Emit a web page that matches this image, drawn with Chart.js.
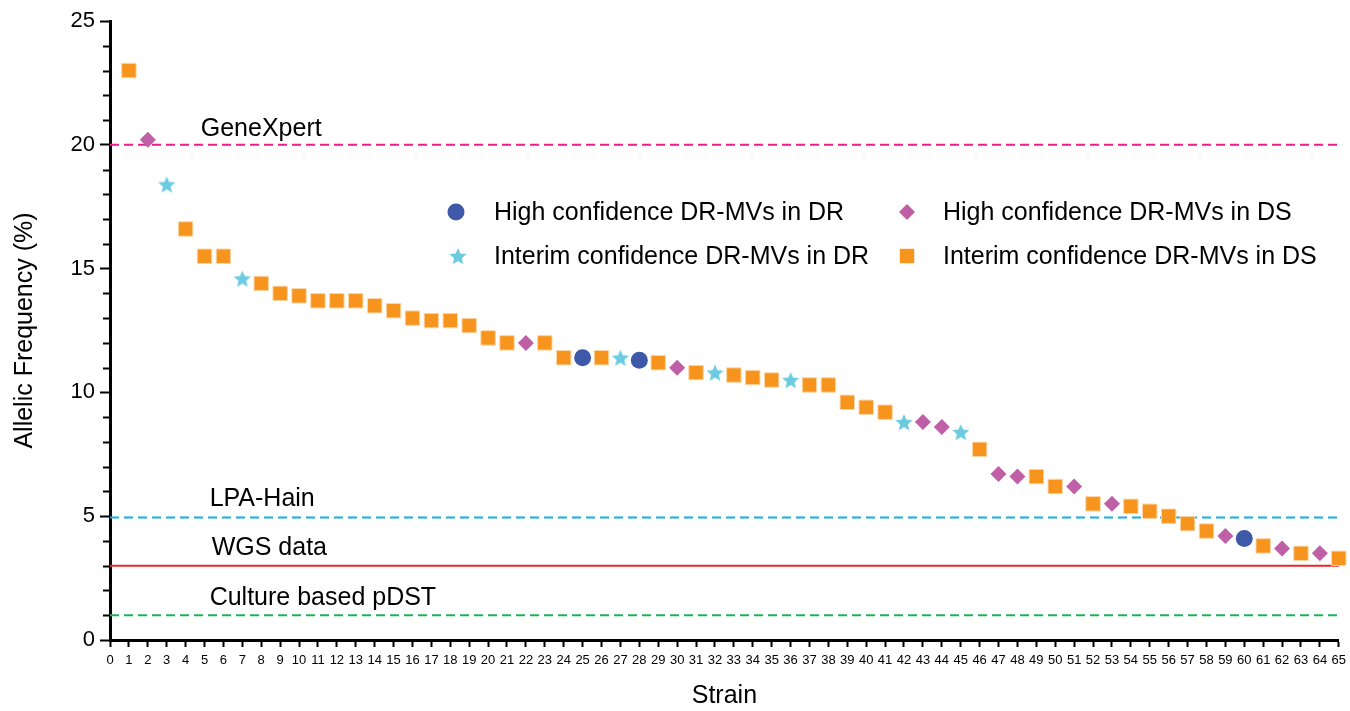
<!DOCTYPE html>
<html>
<head>
<meta charset="utf-8">
<script src="https://cdn.jsdelivr.net/npm/chart.js@4.4.0/dist/chart.umd.min.js"></script>
<style>
  html, body { margin: 0; padding: 0; background: #fff; }
  #wrap { width: 1350px; height: 711px; position: relative; }
</style>
</head>
<body>
<div id="wrap"><canvas id="chart"></canvas></div>
<script>
// strain number -> allelic frequency (%), per marker group
const HIGH_DR_STRAINS = [25, 28, 60];
const HIGH_DR_AF = [11.4, 11.3, 4.1];

const HIGH_DS_STRAINS = [2, 22, 30, 43, 44, 47, 48, 51, 53, 59, 62, 64];
const HIGH_DS_AF = [20.2, 12.0, 11.0, 8.8, 8.6, 6.7, 6.6, 6.2, 5.5, 4.2, 3.7, 3.5];

const INTERIM_DR_STRAINS = [3, 7, 27, 32, 36, 42, 45];
const INTERIM_DR_AF = [18.4, 14.6, 11.4, 10.8, 10.5, 8.8, 8.4];

const INTERIM_DS_STRAINS = [1, 4, 5, 6, 8, 9, 10, 11, 12, 13, 14, 15, 16, 17, 18, 19, 20, 21, 23, 24, 26, 29,
  31, 33, 34, 35, 37, 38, 39, 40, 41, 46, 49, 50, 52, 54, 55, 56, 57, 58, 61, 63, 65];
const INTERIM_DS_AF = [23.0, 16.6, 15.5, 15.5, 14.4, 14.0, 13.9, 13.7, 13.7, 13.7, 13.5, 13.3, 13.0, 12.9, 12.9, 12.7, 12.2, 12.0, 12.0, 11.4, 11.4, 11.2,
  10.8, 10.7, 10.6, 10.5, 10.3, 10.3, 9.6, 9.4, 9.2, 7.7, 6.6, 6.2, 5.5, 5.4, 5.2, 5.0, 4.7, 4.4, 3.8, 3.5, 3.3];

const SERIES_LABELS = [
  'High confidence DR-MVs in DR',
  'High confidence DR-MVs in DS',
  'Interim confidence DR-MVs in DR',
  'Interim confidence DR-MVs in DS'
];

// detection thresholds (%)
const THRESHOLD_NAMES = ['GeneXpert', 'LPA-Hain', 'WGS data', 'Culture based pDST'];
const THRESHOLD_VALUES = [20, 4.95, 3.0, 1];

const X_MIN = 0, X_MAX = 65;
const Y_MIN = 0, Y_MAX = 25;

const COLORS = {
  highDR: '#3D59A7',
  highDS: '#BF5FA6',
  interimDR: '#6CCBE0',
  interimDS: '#F7941D',
  geneXpert: '#EC1C8C',
  lpa: '#14AEE8',
  wgs: '#E8262B',
  culture: '#1DB35B'
};

const FONT = '"Liberation Sans", Arial, Helvetica, sans-serif';
const NARROW = '"Liberation Sans Narrow", "Arial Narrow", "Liberation Sans", sans-serif';

function toPoints(xs, ys) { return xs.map((x, i) => ({ x: x, y: ys[i] })); }

// filled five-point star used as a point style
function makeStar(color, outer) {
  const size = Math.ceil(outer * 2 + 2);
  const cv = document.createElement('canvas');
  cv.width = size; cv.height = size;
  const c = cv.getContext('2d');
  const cx = size / 2, cy = size / 2 + outer * 0.1, inner = outer * 0.45;
  c.beginPath();
  for (let i = 0; i < 10; i++) {
    const r = i % 2 === 0 ? outer : inner;
    const a = -Math.PI / 2 + i * Math.PI / 5;
    const px = cx + r * Math.cos(a), py = cy + r * Math.sin(a);
    if (i === 0) c.moveTo(px, py); else c.lineTo(px, py);
  }
  c.closePath();
  c.fillStyle = color;
  c.fill();
  return cv;
}
const STAR = makeStar(COLORS.interimDR, 9);

function thresholdLine(i, color, dash) {
  return {
    type: 'line',
    label: THRESHOLD_NAMES[i],
    data: [{ x: X_MIN, y: THRESHOLD_VALUES[i] }, { x: X_MAX, y: THRESHOLD_VALUES[i] }],
    borderColor: color,
    borderWidth: 2,
    borderDash: dash,
    pointRadius: 0,
    fill: false,
    clip: false
  };
}

// labels for the threshold lines, placed in data units
const lineLabels = {
  id: 'lineLabels',
  afterDatasetsDraw(chart) {
    const { ctx, scales: { x, y } } = chart;
    const spots = [
      { i: 0, sx: 4.8, dy: -16 },
      { i: 1, sx: 5.27, dy: -18 },
      { i: 2, sx: 5.38, dy: -18 },
      { i: 3, sx: 5.27, dy: -17 }
    ];
    ctx.save();
    ctx.font = '25px ' + FONT;
    ctx.fillStyle = '#000';
    ctx.textBaseline = 'middle';
    spots.forEach(s => {
      ctx.fillText(THRESHOLD_NAMES[s.i], x.getPixelForValue(s.sx), y.getPixelForValue(THRESHOLD_VALUES[s.i]) + s.dy);
    });
    ctx.restore();
  }
};

// minor ticks on the y axis
const minorTicks = {
  id: 'minorTicks',
  afterDraw(chart) {
    const { ctx, scales: { y }, chartArea } = chart;
    ctx.save();
    ctx.strokeStyle = '#000';
    ctx.lineWidth = 2;
    for (let v = Y_MIN; v <= Y_MAX; v++) {
      if (v % 5 === 0) continue;
      const py = Math.round(y.getPixelForValue(v)) + 0.5;
      ctx.beginPath();
      ctx.moveTo(chartArea.left, py);
      ctx.lineTo(chartArea.left - 7, py);
      ctx.stroke();
    }
    ctx.restore();
  }
};

// 2x2 legend inside the plot
const gridLegend = {
  id: 'gridLegend',
  afterDraw(chart) {
    const { ctx } = chart;
    const items = [
      { ds: 0, cx: 456, cy: 212, tx: 494 },
      { ds: 1, cx: 907, cy: 212, tx: 943 },
      { ds: 2, cx: 458, cy: 256, tx: 494 },
      { ds: 3, cx: 907, cy: 256, tx: 943 }
    ];
    ctx.save();
    items.forEach(it => {
      const d = chart.data.datasets[it.ds];
      ctx.fillStyle = d.backgroundColor;
      ctx.strokeStyle = d.backgroundColor;
      Chart.helpers.drawPoint(ctx, {
        pointStyle: d.pointStyle, radius: d.pointRadius, rotation: 0, borderWidth: 0
      }, it.cx, it.cy);
      ctx.fillStyle = '#000';
      ctx.font = '25px ' + FONT;
      ctx.textBaseline = 'middle';
      ctx.fillText(d.label, it.tx, it.cy + 1);
    });
    ctx.restore();
  }
};

const data = {
  datasets: [
    { type: 'scatter', label: SERIES_LABELS[0], data: toPoints(HIGH_DR_STRAINS, HIGH_DR_AF),
      pointStyle: 'circle', pointRadius: 8.5, backgroundColor: COLORS.highDR, borderWidth: 0, clip: false },
    { type: 'scatter', label: SERIES_LABELS[1], data: toPoints(HIGH_DS_STRAINS, HIGH_DS_AF),
      pointStyle: 'rectRot', pointRadius: 8, backgroundColor: COLORS.highDS, borderWidth: 0, clip: false },
    { type: 'scatter', label: SERIES_LABELS[2], data: toPoints(INTERIM_DR_STRAINS, INTERIM_DR_AF),
      pointStyle: STAR, pointRadius: 9, backgroundColor: COLORS.interimDR, borderWidth: 0, clip: false },
    { type: 'scatter', label: SERIES_LABELS[3], data: toPoints(INTERIM_DS_STRAINS, INTERIM_DS_AF),
      pointStyle: 'rect', pointRadius: 10.2, backgroundColor: COLORS.interimDS,
      borderColor: '#FCD7A6', borderWidth: 1, clip: false },
    thresholdLine(0, COLORS.geneXpert, [9, 5]),
    thresholdLine(1, COLORS.lpa, [9, 5]),
    thresholdLine(2, COLORS.wgs, []),
    thresholdLine(3, COLORS.culture, [9, 5])
  ]
};

new Chart(document.getElementById('chart'), {
  data: data,
  plugins: [lineLabels, minorTicks, gridLegend],
  options: {
    responsive: true,
    maintainAspectRatio: false,
    animation: false,
    events: [],
    layout: { padding: { top: 21, right: 0, left: 0, bottom: 0 } },
    plugins: { legend: { display: false }, tooltip: { enabled: false } },
    scales: {
      x: {
        type: 'linear',
        min: X_MIN, max: X_MAX,
        afterFit(scale) { scale.height = 71; scale.paddingRight = 7; },
        border: { display: true, color: '#000', width: 3 },
        grid: { display: true, drawOnChartArea: false, drawTicks: true, tickLength: 7, tickWidth: 2, tickColor: '#000' },
        ticks: {
          stepSize: 1, autoSkip: false, maxRotation: 0, minRotation: 0,
          color: '#000', padding: 6,
          font: { family: NARROW, size: 13 }
        },
        title: {
          display: true, text: 'Strain', color: '#000',
          font: { family: FONT, size: 25 }, padding: { top: 0, bottom: 0 }
        }
      },
      y: {
        type: 'linear',
        min: Y_MIN, max: Y_MAX,
        afterFit(scale) { scale.width = 110; },
        border: { display: true, color: '#000', width: 3 },
        grid: {
          display: true, drawOnChartArea: false, drawTicks: true, tickLength: 10, tickWidth: 2,
          tickColor: c => (c.tick && c.tick.value % 5 === 0) ? '#000' : 'rgba(0,0,0,0)'
        },
        ticks: {
          stepSize: 1, autoSkip: false, color: '#000', padding: 5,
          font: { family: FONT, size: 22 },
          callback: v => (v % 5 === 0 ? String(v) : '')
        },
        title: {
          display: true, text: 'Allelic Frequency (%)', color: '#000',
          font: { family: FONT, size: 25 }, padding: { top: 10, bottom: 0 }
        }
      }
    }
  }
});
</script>
</body>
</html>
